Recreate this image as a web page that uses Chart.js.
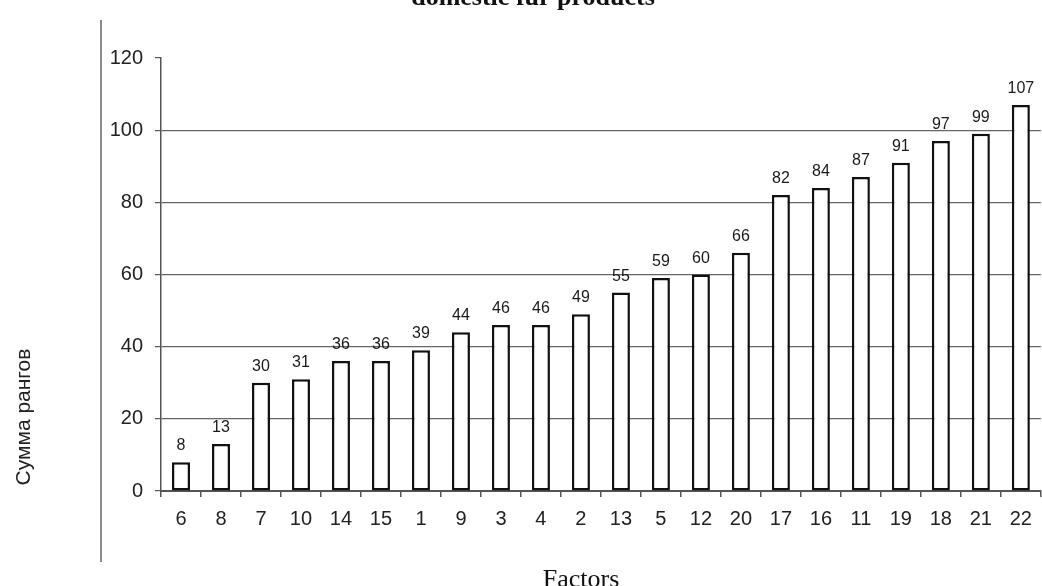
<!DOCTYPE html>
<html><head><meta charset="utf-8">
<script src="https://cdn.jsdelivr.net/npm/chart.js@4/dist/chart.umd.min.js"></script>
<style>html,body{margin:0;padding:0;background:#fff;}canvas{display:block;}</style>
</head><body>
<canvas id="c" width="1042" height="586"></canvas>
<script>
const factors = ['6','8','7','10','14','15','1','9','3','4','2','13','5','12','20','17','16','11','19','18','21','22'];
const rankSums = [8,13,30,31,36,36,39,44,46,46,49,55,59,60,66,82,84,87,91,97,99,107];
const yTicks = [0,20,40,60,80,100,120];
const titleText = 'domestic fur products';
const xTitle = 'Factors';
const yTitle = 'Сумма рангов';

const deco = {
  id: 'deco',
  afterDatasetsDraw(chart) {
    const ctx = chart.ctx;
    const meta = chart.getDatasetMeta(0);
    ctx.save();
    ctx.fillStyle = '#1a1a1a';
    ctx.font = '16px "Liberation Sans", Arial, sans-serif';
    ctx.textAlign = 'center';
    ctx.textBaseline = 'alphabetic';
    meta.data.forEach((bar, i) => {
      ctx.fillText(String(rankSums[i]), bar.x, bar.y - 12);
    });
    ctx.restore();
  },
  afterDraw(chart) {
    const ctx = chart.ctx;
    ctx.save();
    // frame line on the left
    ctx.strokeStyle = '#8a8a8a';
    ctx.lineWidth = 2;
    ctx.beginPath(); ctx.moveTo(101, 20); ctx.lineTo(101, 562); ctx.stroke();
    // cut-off title
    ctx.fillStyle = '#111';
    ctx.font = 'bold 26px "Liberation Serif", "Times New Roman", serif';
    ctx.textAlign = 'center';
    ctx.textBaseline = 'alphabetic';
    ctx.fillText(titleText, 533, 5);
    // x title
    ctx.font = '26px "Liberation Serif", "Times New Roman", serif';
    ctx.fillText(xTitle, 581, 587);
    // y title
    ctx.font = '21px "Liberation Sans", Arial, sans-serif';
    ctx.translate(24, 417);
    ctx.rotate(-Math.PI/2);
    ctx.textBaseline = 'middle';
    ctx.fillStyle = '#222';
    ctx.fillText(yTitle, 0, 0);
    ctx.restore();
  }
};

new Chart(document.getElementById('c'), {
  type: 'bar',
  data: {
    labels: factors,
    datasets: [{
      data: rankSums,
      backgroundColor: '#ffffff',
      borderColor: '#111111',
      borderWidth: 2.5,
      borderSkipped: false,
      categoryPercentage: 1,
      barPercentage: 0.45
    }]
  },
  options: {
    responsive: false,
    animation: false,
    layout: { padding: { top: 58, right: 1, bottom: 0, left: 0 } },
    plugins: { legend: { display: false }, tooltip: { enabled: false }, title: { display: false } },
    scales: {
      x: {
        afterFit(s) { s.height = 95; },
        grid: { drawOnChartArea: false, drawTicks: true, tickLength: 6, tickColor: '#555', offset: true, lineWidth: 1.5 },
        border: { display: true, color: '#555', width: 2 },
        ticks: { color: '#222', padding: 10, font: { family: '"Liberation Sans", Arial, sans-serif', size: 20 }, maxRotation: 0, autoSkip: false }
      },
      y: {
        min: 0, max: 120,
        afterFit(s) { s.width = 161; },
        afterBuildTicks(s) { s.ticks = yTicks.map(v => ({ value: v })); },
        grid: {
          color: (c) => (c.tick && (c.tick.value === 120 || c.tick.value === 0)) ? 'rgba(0,0,0,0)' : '#666',
          lineWidth: 1.2,
          tickColor: '#555', tickLength: 6, drawTicks: true
        },
        border: { display: true, color: '#555', width: 1.5 },
        ticks: { color: '#222', padding: 12, font: { family: '"Liberation Sans", Arial, sans-serif', size: 20 } }
      }
    }
  },
  plugins: [deco]
});
</script>
</body></html>
